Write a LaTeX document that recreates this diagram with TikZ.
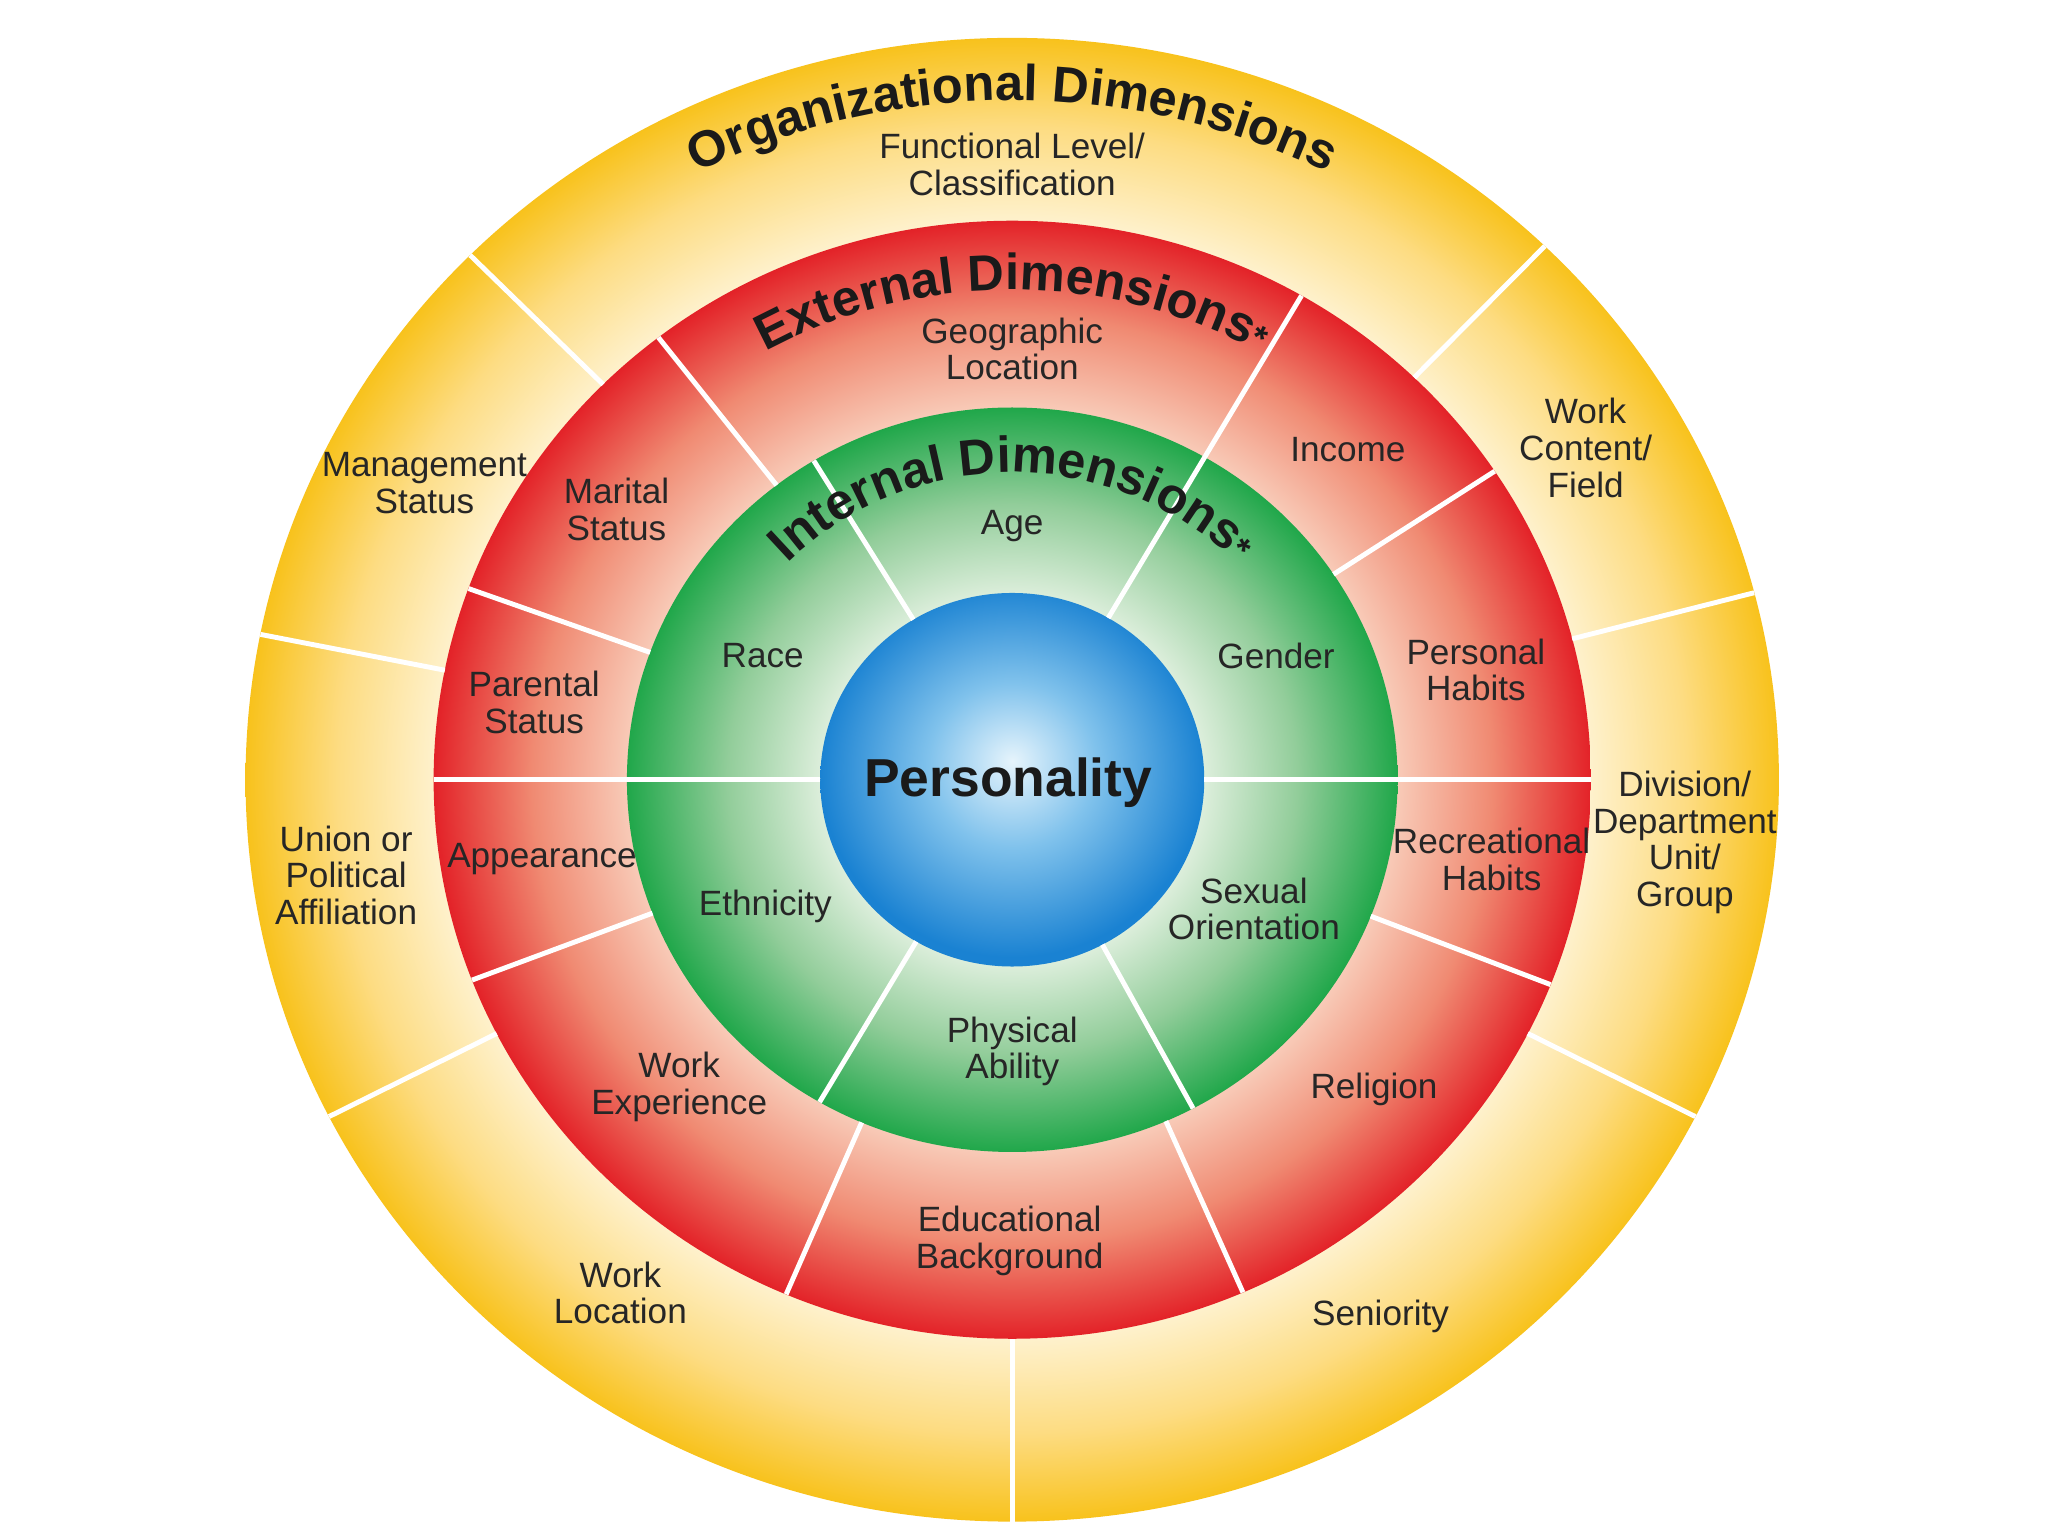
\documentclass[tikz,border=0pt]{standalone}
\usepackage{fontspec}
\setmainfont{Liberation Sans}
\usetikzlibrary{decorations.text}
\definecolor{ycream}{HTML}{FEF1CC}
\definecolor{ymid}{HTML}{FDDC82}
\definecolor{ygold}{HTML}{F8C21C}
\definecolor{rinner}{HTML}{F8CAB7}
\definecolor{rmid}{HTML}{F08A72}
\definecolor{router}{HTML}{E32228}
\definecolor{ginner}{HTML}{DCEEDB}
\definecolor{gmid}{HTML}{92CD9A}
\definecolor{gouter}{HTML}{20A74A}
\definecolor{binner}{HTML}{E6F4FC}
\definecolor{bmid}{HTML}{80C2EC}
\definecolor{bouter}{HTML}{1A82D2}
\definecolor{labelcol}{HTML}{262626}
\definecolor{titlecol}{HTML}{1A1A1A}
\pgfdeclareradialshading{yring}{\pgfpoint{0bp}{0bp}}{color(0bp)=(ycream); color(18.85bp)=(ycream); color(22bp)=(ymid); color(25bp)=(ygold); color(50bp)=(ygold)}
\pgfdeclareradialshading{rring}{\pgfpoint{0bp}{0bp}}{color(0bp)=(rinner); color(16.65bp)=(rinner); color(20.75bp)=(rmid); color(25bp)=(router); color(50bp)=(router)}
\pgfdeclareradialshading{gring}{\pgfpoint{0bp}{0bp}}{color(0bp)=(ginner); color(12.45bp)=(ginner); color(18.5bp)=(gmid); color(25bp)=(gouter); color(50bp)=(gouter)}
\pgfdeclareradialshading{bball}{\pgfpoint{0bp}{2.5bp}}{color(0bp)=(binner); color(11bp)=(bmid); color(25bp)=(bouter); color(50bp)=(bouter)}
\newcommand\ttlfont{\fontsize{14.4}{16}\selectfont\bfseries}
\newcommand\starfont{\fontsize{10}{11}\selectfont\bfseries}
\begin{document}
\begin{tikzpicture}[x=0.01306cm, y=0.01306cm,
  lbl/.style={font=\fontsize{10}{10.4}\selectfont, text=labelcol, align=center, inner sep=0pt},
  divider/.style={draw=white, line width=1.4pt},
  ttl/.style={decorate, decoration={text along path, text align=center, text color=titlecol, text={|\ttlfont|#1}}}]
\useasboundingbox[fill=white] (-775,-579) rectangle (793,597);
\coordinate (c) at (0,0);
% rings
\shade[shading=yring] (c) ellipse [x radius=587, y radius=568];
\shade[shading=rring] (c) ellipse [x radius=443, y radius=428];
\shade[shading=gring] (c) ellipse [x radius=295, y radius=285];
\shade[shading=bball] (c) ellipse [x radius=147, y radius=143];
% dividers through green and red
\foreach \a in {0,60,180}
  \draw[divider] (\a:147 and 143) -- (\a:443 and 428);
% green dividers
\foreach \a in {121,240,298}
  \draw[divider] (\a:147 and 143) -- (\a:295 and 285);
% red dividers
\foreach \a in {33.5,127.7,160,201,247,293.5,338.5}
  \draw[divider] (\a:295 and 285) -- (\a:443 and 428);
% yellow dividers
\foreach \a in {14.6,46,135,168.7,207,270,333}
  \draw[divider] (\a:443 and 428) -- (\a:587 and 568);
% curved titles
\path[ttl={Organizational Dimensions}] (135:538 and 520) arc[start angle=135, end angle=45, x radius=538, y radius=520];
\path[ttl={External Dimensions|\starfont|*}] (140:388 and 375) arc[start angle=140, end angle=40, x radius=388, y radius=375];
\path[ttl={Internal Dimensions|\starfont|*}] (165:243 and 235) arc[start angle=165, end angle=15, x radius=243, y radius=235];
% organizational labels
\node[lbl] (functional) at (0,471) {Functional Level/\\Classification};
\node[lbl] (workcontent) at (439,254) {Work\\Content/\\Field};
\node[lbl] (division) at (515,-48) {Division/\\Department\\Unit/\\Group};
\node[lbl] (seniority) at (282,-411) {Seniority};
\node[lbl] (worklocation) at (-300,-393) {Work\\Location};
\node[lbl] (union) at (-510,-73) {Union or\\Political\\Affiliation};
\node[lbl] (management) at (-450,227) {Management\\Status};
% external labels
\node[lbl] (geographic) at (0,330) {Geographic\\Location};
\node[lbl] (income) at (257,253) {Income};
\node[lbl] (personal) at (355,84) {Personal\\Habits};
\node[lbl] (recreational) at (367,-61) {Recreational\\Habits};
\node[lbl] (religion) at (277,-237) {Religion};
\node[lbl] (educational) at (-2,-353) {Educational\\Background};
\node[lbl] (workexp) at (-255,-235) {Work\\Experience};
\node[lbl] (appearance) at (-360,-61) {Appearance};
\node[lbl] (parental) at (-366,59) {Parental\\Status};
\node[lbl] (marital) at (-303,207) {Marital\\Status};
% internal labels
\node[lbl] (age) at (0,194) {Age};
\node[lbl] (gender) at (202,95) {Gender};
\node[lbl] (sexual) at (185,-99) {Sexual\\Orientation};
\node[lbl] (physical) at (0,-208) {Physical\\Ability};
\node[lbl] (ethnicity) at (-189,-97) {Ethnicity};
\node[lbl] (race) at (-191,95) {Race};
% core
\node[font=\fontsize{15.2}{17}\selectfont\bfseries, text=titlecol, inner sep=0pt] (personality) at (-3,-2) {Personality};
\end{tikzpicture}
\end{document}
